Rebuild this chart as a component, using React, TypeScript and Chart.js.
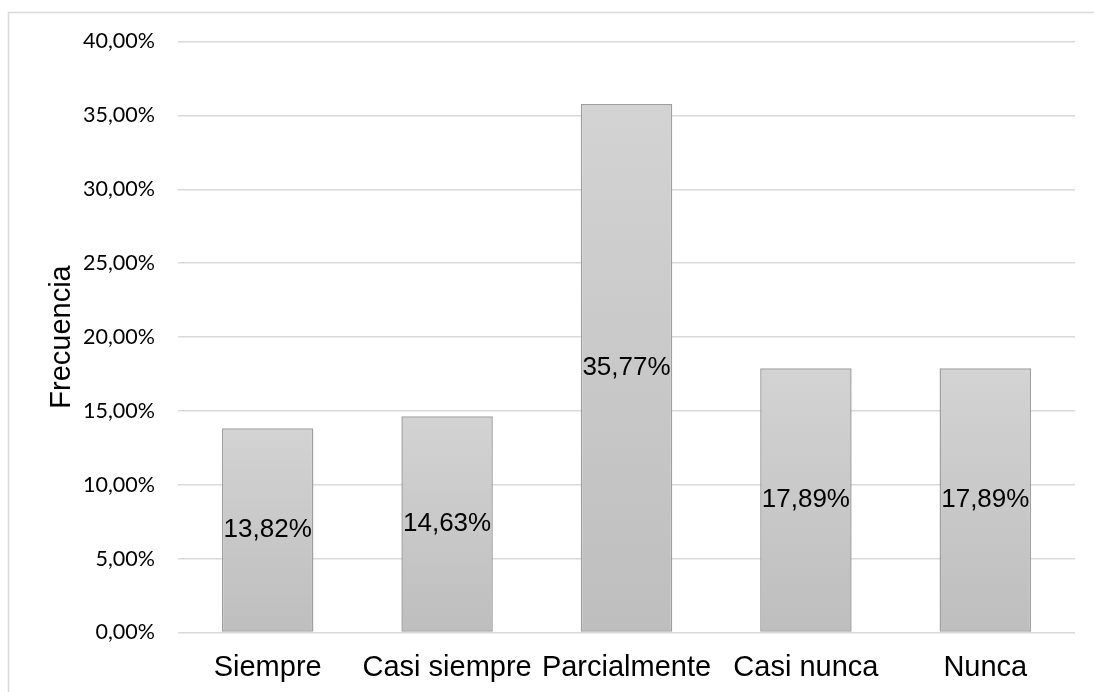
import React, { useEffect, useRef } from "react";
import { Chart, registerables } from "chart.js";

Chart.register(...registerables);

const categories = ["Siempre", "Casi siempre", "Parcialmente", "Casi nunca", "Nunca"];
const frecuencia = [13.82, 14.63, 35.77, 17.89, 17.89];
const yTicksMin = 0;
const yTicksMax = 40;
const yTicksStep = 5;
const yAxisTitle = "Frecuencia";

const fmt = (v: number) => v.toFixed(2).replace(".", ",") + "%";

const framePlugin = {
  id: "frame",
  beforeDraw(chart: any) {
    const ctx = chart.ctx;
    ctx.save();
    ctx.fillStyle = "#ffffff";
    ctx.fillRect(0, 0, chart.width, chart.height);
    ctx.strokeStyle = "#d9d9d9";
    ctx.lineWidth = 1.5;
    ctx.beginPath();
    ctx.moveTo(8.5, chart.height + 2);
    ctx.lineTo(8.5, 12.5);
    ctx.lineTo(chart.width + 2, 12.5);
    ctx.stroke();
    ctx.restore();
  },
};

const labelPlugin = {
  id: "barLabels",
  afterDatasetsDraw(chart: any) {
    const ctx = chart.ctx;
    const meta = chart.getDatasetMeta(0);
    const data = chart.data.datasets[0].data as number[];
    ctx.save();
    ctx.font = '26px "Liberation Sans", Arial, sans-serif';
    ctx.fillStyle = "#000000";
    ctx.textAlign = "center";
    ctx.textBaseline = "middle";
    meta.data.forEach((el: any, i: number) => {
      const y = (el.y + el.base) / 2;
      ctx.fillText(fmt(data[i]), el.x, y);
    });
    ctx.restore();
  },
};

export default function App() {
  const ref = useRef<HTMLCanvasElement | null>(null);

  useEffect(() => {
    if (!ref.current) return;
    const chart = new Chart(ref.current, {
      type: "bar",
      data: {
        labels: categories,
        datasets: [
          {
            data: frecuencia,
            backgroundColor: (c: any) => {
              const ch = c.chart;
              const ys = ch.scales?.y;
              if (!ys || c.type !== "data") return "#c9c9c9";
              const top = ys.getPixelForValue(c.raw);
              const base = ys.getPixelForValue(0);
              if (!isFinite(top) || !isFinite(base) || top === base) return "#c9c9c9";
              const g = ch.ctx.createLinearGradient(0, top, 0, base);
              g.addColorStop(0, "#d3d3d3");
              g.addColorStop(1, "#bebebe");
              return g;
            },
            borderColor: "#9f9f9f",
            borderWidth: 1.5,
            borderSkipped: false,
            categoryPercentage: 1,
            barPercentage: 0.51,
          },
        ],
      },
      options: {
        responsive: false,
        animation: false,
        layout: { padding: { top: 41.5, right: 19, bottom: 0, left: 0 } },
        plugins: {
          legend: { display: false },
          tooltip: { enabled: false },
        },
        scales: {
          x: {
            grid: { display: false, drawTicks: false },
            border: { display: false },
            ticks: {
              padding: 18,
              color: "#000000",
              font: { family: '"Liberation Sans", Arial, sans-serif', size: 29 },
              maxRotation: 0,
              autoSkip: false,
            },
            afterFit: (s: any) => {
              s.height = 59.5;
            },
          },
          y: {
            min: yTicksMin,
            max: yTicksMax,
            grid: { color: "#d9d9d9", lineWidth: 1.5, drawTicks: false },
            border: { display: false },
            ticks: {
              stepSize: yTicksStep,
              padding: 23,
              color: "#000000",
              font: { family: "Lato, 'Open Sans', sans-serif", size: 21.5 },
              callback: (v: any) => fmt(Number(v)),
            },
            title: {
              display: true,
              text: yAxisTitle,
              color: "#000000",
              font: { family: '"Liberation Sans", Arial, sans-serif', size: 29 },
              padding: { top: 44.6, bottom: 0 },
            },
            afterFit: (s: any) => {
              s.width = 178;
            },
          },
        },
      },
      plugins: [framePlugin, labelPlugin],
    });
    return () => chart.destroy();
  }, []);

  return (
    <div style={{ position: "absolute", left: 0, top: 0, width: 1094, height: 692, background: "#fff" }}>
      <canvas ref={ref} width={1094} height={692} style={{ display: "block" }} />
    </div>
  );
}
